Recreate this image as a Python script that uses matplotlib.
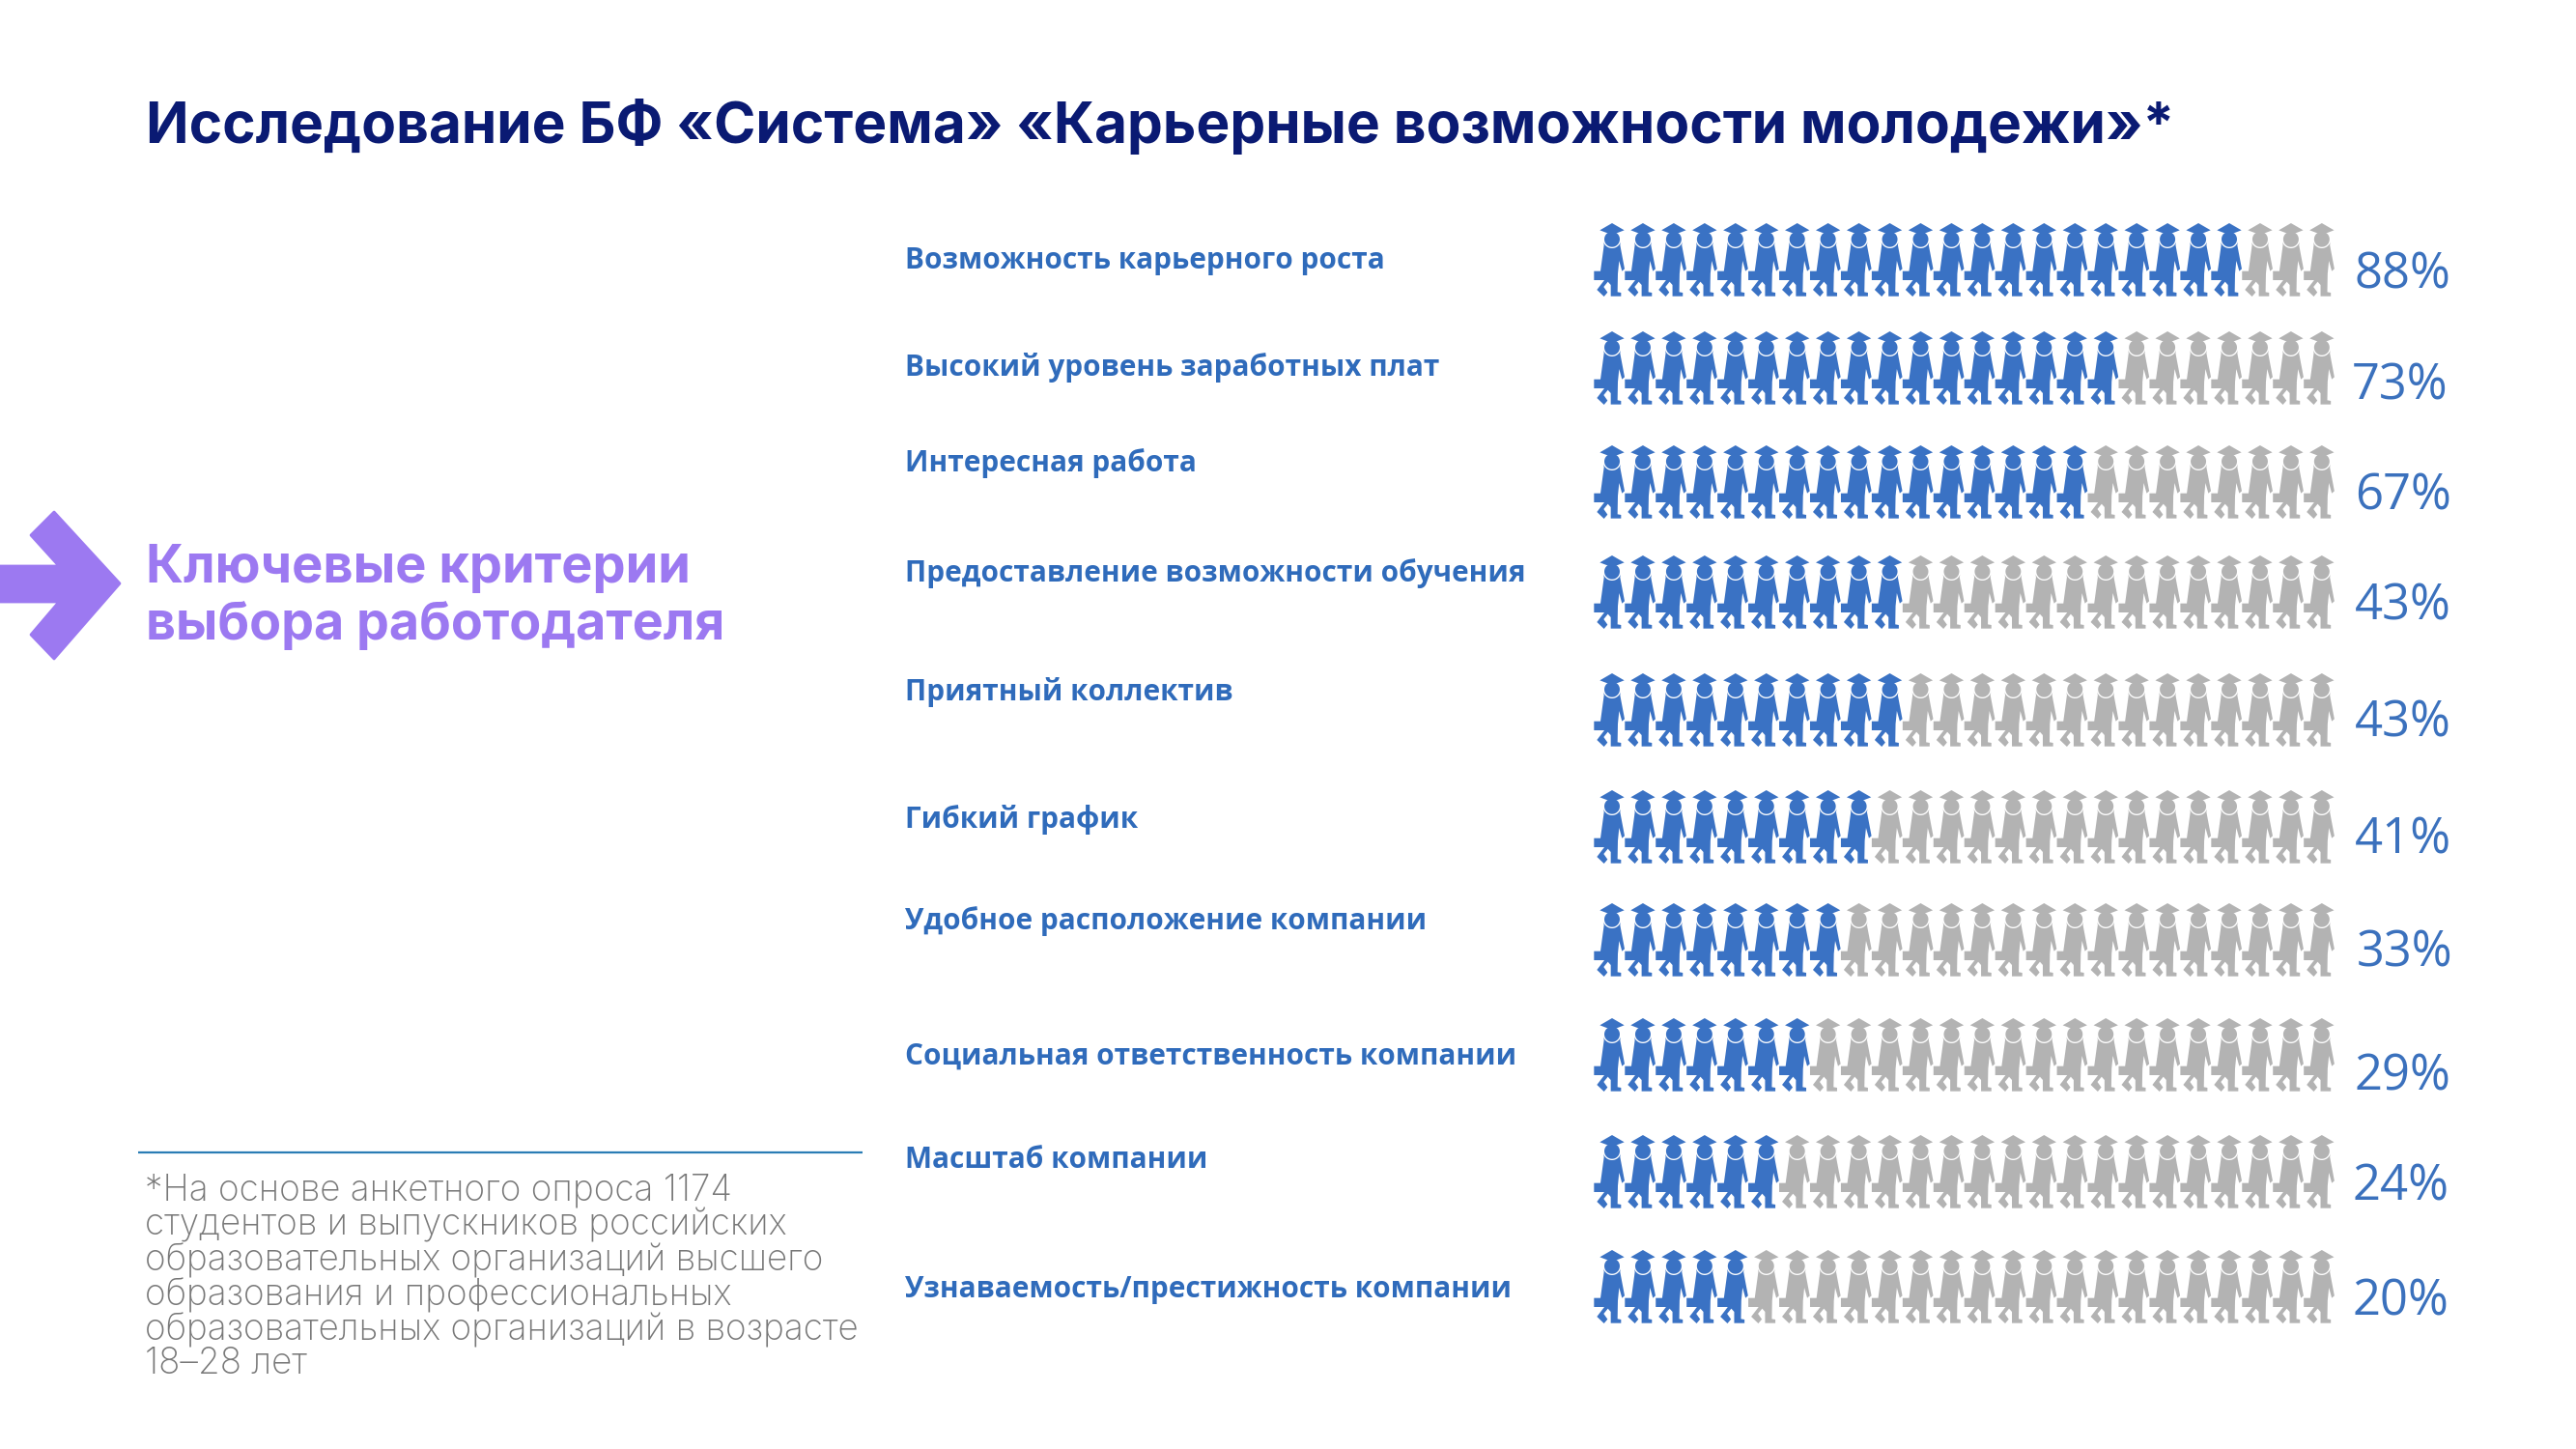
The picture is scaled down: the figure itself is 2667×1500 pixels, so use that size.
import numpy as np
import matplotlib
matplotlib.use('Agg')
import matplotlib.pyplot as plt
from matplotlib.path import Path
from matplotlib.patches import Polygon

# dati
categories = [
    'Возможность карьерного роста',
    'Высокий уровень заработных плат',
    'Интересная работа',
    'Предоставление возможности обучения',
    'Приятный коллектив',
    'Гибкий график',
    'Удобное расположение компании',
    'Социальная ответственность компании',
    'Масштаб компании',
    'Узнаваемость/престижность компании',
]
percents = [88, 73, 67, 43, 43, 41, 33, 29, 24, 20]
blue_icons = [21, 17, 16, 10, 10, 9, 8, 7, 6, 5]
total_icons = 24

title = 'Исследование БФ «Система» «Карьерные возможности молодежи»*'
subtitle = ['Ключевые критерии', 'выбора работодателя']
footnote = [
    '*На основе анкетного опроса 1174',
    'студентов и выпускников российских',
    'образовательных организаций высшего',
    'образования и профессиональных',
    'образовательных организаций в возрасте',
    '18–28 лет',
]

# layout in pixel
icon_top = [231, 343, 461, 575, 697, 818, 935, 1054, 1175, 1294]
label_y = [270, 381, 480, 594, 716, 849, 954, 1094, 1201, 1335]
pct_y = [285, 400, 514, 628, 749, 870, 987, 1115, 1229, 1348]
pct_x = [2438, 2435, 2438, 2438, 2438, 2438, 2440, 2438, 2436, 2435]
foot_y = [1232, 1269, 1305, 1341, 1377, 1412]

BLUE = '#3A72C4'
GREY = '#B3B3B3'
TEXT_BLUE = '#2F6BBB'
PCT_BLUE = '#3B71BD'
NAVY = '#0A1A73'
PURPLE = '#9C79F1'


def person_marker():
    # coordinate dello zoom 3x, origine sul centro della figura
    cx, top = 88, 48
    angle = np.linspace(np.pi * 0.9, np.pi * 0.1, 18)
    arc = [(88 + 28 * np.cos(a), 98 + 28 * np.sin(a)) for a in angle]
    body = arc + [
        (113, 116), (127, 190), (119, 197), (110, 165), (106, 205), (105, 262),
        (116, 264), (116, 275), (84, 275), (84, 240), (75, 230), (62, 246),
        (74, 263), (63, 276), (41, 255), (64, 225), (32, 225), (32, 197),
        (52, 197), (63, 116),
    ]
    cap = [(50, 70), (88, 48), (126, 70), (105, 78), (71, 78)]
    t = np.linspace(0, 2 * np.pi, 40)
    head = list(zip(88 + 24 * np.cos(t), 98 + 24 * np.sin(t)))
    verts, codes = [], []
    for part in (body, cap, head):
        p = np.array(part, dtype=float)
        p = (p - [cx, top + 113]) / 3.0
        p[:, 1] *= -1
        # stesso verso per tutte le parti
        area = np.sum(p[:, 0] * np.roll(p[:, 1], -1) - np.roll(p[:, 0], -1) * p[:, 1])
        if area < 0:
            p = p[::-1]
        verts += p.tolist() + [p[0].tolist()]
        codes += [Path.MOVETO] + [Path.LINETO] * (len(p) - 1) + [Path.CLOSEPOLY]
    return Path(verts, codes)


fig = plt.figure(figsize=(26.67, 15), dpi=100)
ax = fig.add_axes([0, 0, 1, 1])
ax.set_xlim(0, 2667)
ax.set_ylim(1500, 0)
ax.axis('off')

ax.text(151, 148, title, fontsize=42.2, fontweight='bold', color=NAVY,
        family='Inter', va='baseline')

arrow = [(0, 586), (61, 586), (32, 554), (56, 530), (124, 604), (56, 682), (32, 657), (61, 623), (0, 623)]
ax.add_patch(Polygon(arrow, closed=True, fc=PURPLE, ec=PURPLE, lw=2, joinstyle='round'))
ax.text(151, 603, subtitle[0], fontsize=39, fontweight='bold', color=PURPLE,
        family='Inter', va='baseline')
ax.text(151, 662, subtitle[1], fontsize=38.7, fontweight='bold', color=PURPLE,
        family='Inter', va='baseline')

ax.plot([143, 893], [1193, 1193], color='#2A7DB5', lw=1.6, solid_capstyle='butt')
for line, y in zip(footnote, foot_y):
    ax.text(150, y, line, fontsize=26.6, color='#787878', family='Inter', fontweight='light', va='center')

marker = person_marker()
radius = np.abs(marker.vertices).max()
size = (2 * radius * 72 / fig.dpi) ** 2
x_first = 1669
x_step = 31.95
for i in range(len(categories)):
    ax.text(937, label_y[i], categories[i], fontsize=21.4, fontweight='bold', color=TEXT_BLUE,
            family='Open Sans', va='center')
    ax.text(pct_x[i], pct_y[i], f'{percents[i]}%', fontsize=36.5, color=PCT_BLUE,
            family='Open Sans', va='center')
    xs = x_first + x_step * np.arange(total_icons)
    ys = np.full(total_icons, icon_top[i] + 113 / 3.0)
    colors = [BLUE if k < blue_icons[i] else GREY for k in range(total_icons)]
    ax.scatter(xs, ys, s=size, marker=marker, c=colors, linewidths=0)

fig.savefig('out.png', dpi=100, facecolor='white')
